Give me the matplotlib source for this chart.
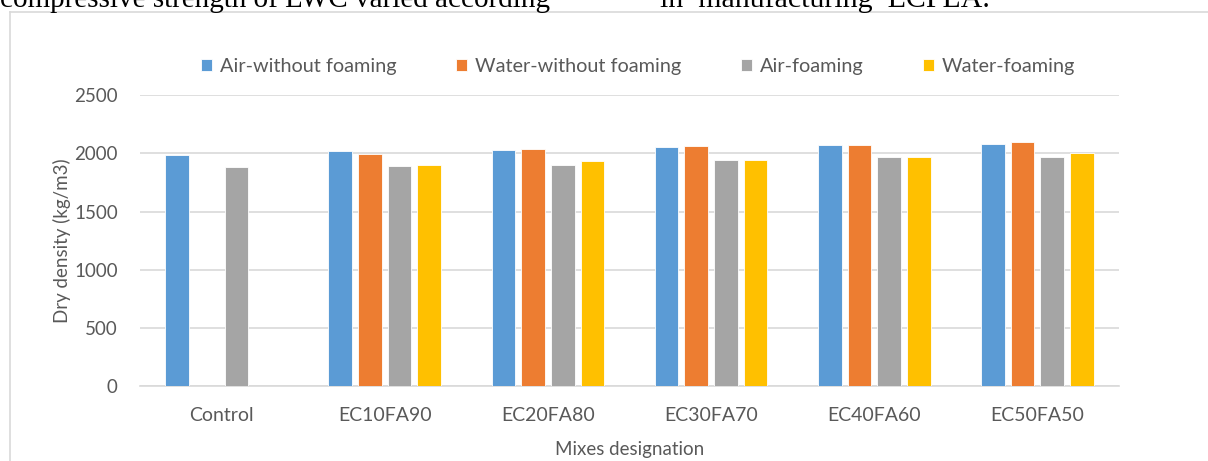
import numpy as np
import matplotlib
matplotlib.use('Agg')
import matplotlib.pyplot as plt
from matplotlib.lines import Line2D

mixes = ['Control', 'EC10FA90', 'EC20FA80', 'EC30FA70', 'EC40FA60', 'EC50FA50']
series_names = ['Air-without foaming', 'Water-without foaming', 'Air-foaming', 'Water-foaming']
air_plain = [1985, 2022, 2031, 2057, 2072, 2083]
water_plain = [np.nan, 1994, 2034, 2066, 2072, 2097]
air_foam = [1885, 1890, 1896, 1945, 1965, 1968]
water_foam = [np.nan, 1899, 1931, 1940, 1971, 2000]
y_ticks = [0, 500, 1000, 1500, 2000, 2500]

colors = ['#5B9BD5', '#ED7D31', '#A5A5A5', '#FFC000']
text_col = '#595959'
grid_col = '#D9D9D9'
font = ['Lato', 'DejaVu Sans']

fig = plt.figure(figsize=(12.08, 4.61), dpi=100)
W, H = 1208, 461

# page text above the chart frame, cut by the top edge
fig.text(0 / W, 1 - 7 / H, 'compressive strength of LWC varied according',
         family='Liberation Serif', fontsize=21, va='baseline', ha='left')
fig.text(660 / W, 1 - 7 / H, 'in  manufacturing  ECPLA.',
         family='Liberation Serif', fontsize=21.5, va='baseline', ha='left')

# chart frame
fig.add_artist(Line2D([10 / W, 10 / W], [0, 1 - 12 / H], color=grid_col, lw=1.2))
fig.add_artist(Line2D([10 / W, 1], [1 - 12 / H, 1 - 12 / H], color=grid_col, lw=1.2))

ax = fig.add_axes([140 / W, 1 - 386.3 / H, (1119 - 140) / W, (386.3 - 95) / H])

x = np.arange(len(mixes))
step = 0.182
width = 0.145
data = [air_plain, water_plain, air_foam, water_foam]
for i, (vals, col, name) in enumerate(zip(data, colors, series_names)):
    ax.bar(x + (i - 1.5) * step, vals, width, color=col, label=name,
           edgecolor='white', linewidth=0.6, zorder=3)

ax.set_xlim(-0.5, len(mixes) - 0.5)
ax.set_ylim(0, 2500)
ax.set_yticks(y_ticks)
ax.set_xticks(x)
ax.set_xticklabels(mixes)
ax.grid(axis='y', color=grid_col, lw=1.2, zorder=0)
ax.tick_params(length=0, colors=text_col)
ax.tick_params(axis='x', pad=15, labelsize=14)
ax.tick_params(axis='y', pad=16, labelsize=13.5)
for lab in ax.get_xticklabels() + ax.get_yticklabels():
    lab.set_family(font)
for s in ['top', 'right', 'left']:
    ax.spines[s].set_visible(False)
ax.spines['bottom'].set_color(grid_col)
ax.spines['bottom'].set_linewidth(1.2)

ax.set_ylabel('Dry density (kg/m3)', color=text_col, fontsize=13.5, family=font, labelpad=2)
ax.set_xlabel('Mixes designation', color=text_col, fontsize=13.5, family=font, labelpad=12)

leg = ax.legend(loc='center', bbox_to_anchor=(0.509, 1.097), ncol=4, frameon=False,
                prop={'family': font, 'size': 14.3}, handlelength=0.55, handleheight=0.55,
                handletextpad=0.4, columnspacing=3.0, borderpad=0)
for t in leg.get_texts():
    t.set_color(text_col)

fig.savefig('out.png', dpi=100, facecolor='white')
